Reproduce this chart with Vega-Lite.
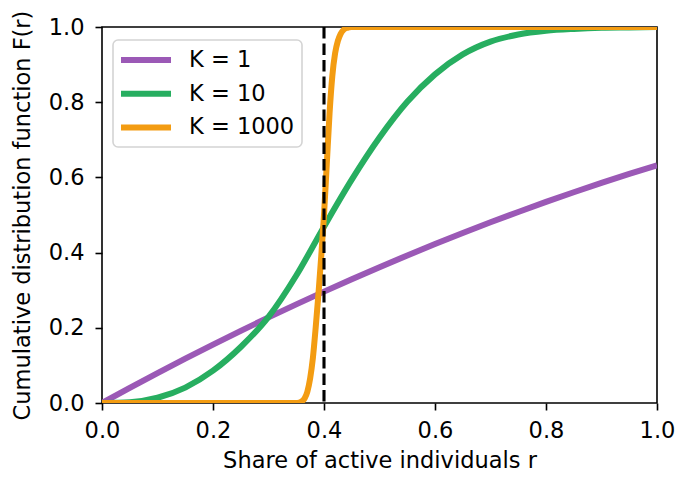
{
  "$schema": "https://vega.github.io/schema/vega-lite/v6.json",
  "width": 555,
  "height": 376,
  "autosize": {"type": "none"},
  "padding": {"left": 102, "top": 27, "right": 20, "bottom": 75},
  "background": "white",
  "config": {
    "font": "DejaVu Sans",
    "view": {"stroke": "black", "strokeWidth": 1.6},
    "axis": {
      "domain": false,
      "grid": false,
      "tickColor": "black",
      "tickWidth": 1.6,
      "tickSize": 7,
      "labelFont": "DejaVu Sans",
      "labelFontSize": 22.5,
      "labelColor": "black",
      "labelFlush": false,
      "labelOverlap": false,
      "titleFont": "DejaVu Sans",
      "titleFontSize": 22.5,
      "titleFontWeight": "normal",
      "titleColor": "black"
    },
    "legend": {
      "orient": "none",
      "legendX": 11,
      "legendY": 13,
      "title": null,
      "symbolType": "M-1.2,0H3.8",
      "symbolSize": 400,
      "symbolStrokeWidth": 6,
      "symbolFillColor": "transparent",
      "labelFont": "DejaVu Sans",
      "labelFontSize": 22.5,
      "labelColor": "black",
      "labelOffset": 43,
      "rowPadding": 8.7,
      "padding": 7,
      "strokeColor": "#d4d4d4",
      "strokeWidth": 1.6,
      "fillColor": "white",
      "cornerRadius": 5
    }
  },
  "datasets": {
    "curves": [
      {"K": "K = 1", "r": 0.0, "F": 0.0},
      {"K": "K = 1", "r": 0.05, "F": 0.0402},
      {"K": "K = 1", "r": 0.1, "F": 0.0795},
      {"K": "K = 1", "r": 0.15, "F": 0.1178},
      {"K": "K = 1", "r": 0.2, "F": 0.1553},
      {"K": "K = 1", "r": 0.25, "F": 0.1919},
      {"K": "K = 1", "r": 0.3, "F": 0.2276},
      {"K": "K = 1", "r": 0.35, "F": 0.2623},
      {"K": "K = 1", "r": 0.4, "F": 0.2962},
      {"K": "K = 1", "r": 0.45, "F": 0.3292},
      {"K": "K = 1", "r": 0.5, "F": 0.3613},
      {"K": "K = 1", "r": 0.55, "F": 0.3924},
      {"K": "K = 1", "r": 0.6, "F": 0.4227},
      {"K": "K = 1", "r": 0.65, "F": 0.4521},
      {"K": "K = 1", "r": 0.7, "F": 0.4806},
      {"K": "K = 1", "r": 0.75, "F": 0.5081},
      {"K": "K = 1", "r": 0.8, "F": 0.5348},
      {"K": "K = 1", "r": 0.85, "F": 0.5606},
      {"K": "K = 1", "r": 0.9, "F": 0.5855},
      {"K": "K = 1", "r": 0.95, "F": 0.6094},
      {"K": "K = 1", "r": 1.0, "F": 0.632},
      {"K": "K = 10", "r": 0.0, "F": 0.0},
      {"K": "K = 10", "r": 0.05, "F": 0.002},
      {"K": "K = 10", "r": 0.1, "F": 0.014},
      {"K": "K = 10", "r": 0.15, "F": 0.041},
      {"K": "K = 10", "r": 0.2, "F": 0.086},
      {"K": "K = 10", "r": 0.25, "F": 0.149},
      {"K": "K = 10", "r": 0.3, "F": 0.229},
      {"K": "K = 10", "r": 0.35, "F": 0.339},
      {"K": "K = 10", "r": 0.4, "F": 0.469},
      {"K": "K = 10", "r": 0.45, "F": 0.594},
      {"K": "K = 10", "r": 0.5, "F": 0.706},
      {"K": "K = 10", "r": 0.55, "F": 0.801},
      {"K": "K = 10", "r": 0.6, "F": 0.874},
      {"K": "K = 10", "r": 0.65, "F": 0.927},
      {"K": "K = 10", "r": 0.7, "F": 0.961},
      {"K": "K = 10", "r": 0.75, "F": 0.98},
      {"K": "K = 10", "r": 0.8, "F": 0.99},
      {"K": "K = 10", "r": 0.85, "F": 0.995},
      {"K": "K = 10", "r": 0.9, "F": 0.998},
      {"K": "K = 10", "r": 0.95, "F": 0.999},
      {"K": "K = 10", "r": 1.0, "F": 1.0},
      {"K": "K = 1000", "r": 0.0, "F": 0.0},
      {"K": "K = 1000", "r": 0.3, "F": 0.0},
      {"K": "K = 1000", "r": 0.35, "F": 0.0},
      {"K": "K = 1000", "r": 0.355, "F": 0.001},
      {"K": "K = 1000", "r": 0.36, "F": 0.004},
      {"K": "K = 1000", "r": 0.365, "F": 0.012},
      {"K": "K = 1000", "r": 0.37, "F": 0.03},
      {"K": "K = 1000", "r": 0.375, "F": 0.065},
      {"K": "K = 1000", "r": 0.38, "F": 0.12},
      {"K": "K = 1000", "r": 0.385, "F": 0.2},
      {"K": "K = 1000", "r": 0.39, "F": 0.29},
      {"K": "K = 1000", "r": 0.395, "F": 0.39},
      {"K": "K = 1000", "r": 0.4, "F": 0.5},
      {"K": "K = 1000", "r": 0.405, "F": 0.635},
      {"K": "K = 1000", "r": 0.41, "F": 0.77},
      {"K": "K = 1000", "r": 0.415, "F": 0.87},
      {"K": "K = 1000", "r": 0.42, "F": 0.93},
      {"K": "K = 1000", "r": 0.425, "F": 0.963},
      {"K": "K = 1000", "r": 0.43, "F": 0.982},
      {"K": "K = 1000", "r": 0.435, "F": 0.992},
      {"K": "K = 1000", "r": 0.44, "F": 0.997},
      {"K": "K = 1000", "r": 0.445, "F": 0.999},
      {"K": "K = 1000", "r": 0.45, "F": 1.0},
      {"K": "K = 1000", "r": 0.6, "F": 1.0},
      {"K": "K = 1000", "r": 0.8, "F": 1.0},
      {"K": "K = 1000", "r": 1.0, "F": 1.0}
    ],
    "threshold": [{"r": 0.4}]
  },
  "layer": [
    {
      "data": {"name": "curves"},
      "mark": {"type": "line", "strokeWidth": 6, "clip": true, "interpolate": "monotone"},
      "encoding": {
        "x": {
          "field": "r",
          "type": "quantitative",
          "scale": {"domain": [0, 1], "nice": false, "zero": false},
          "axis": {
            "title": "Share of active individuals r",
            "values": [0, 0.2, 0.4, 0.6, 0.8, 1.0],
            "format": ".1f",
            "labelPadding": 9,
            "titlePadding": 8
          }
        },
        "y": {
          "field": "F",
          "type": "quantitative",
          "scale": {"domain": [0, 1], "nice": false, "zero": false},
          "axis": {
            "title": "Cumulative distribution function F(r)",
            "values": [0, 0.2, 0.4, 0.6, 0.8, 1.0],
            "format": ".1f",
            "labelPadding": 11,
            "titlePadding": 14
          }
        },
        "color": {
          "field": "K",
          "type": "nominal",
          "scale": {
            "domain": ["K = 1", "K = 10", "K = 1000"],
            "range": ["#9b59b6", "#27ae60", "#f39c12"]
          }
        }
      }
    },
    {
      "data": {"name": "threshold"},
      "mark": {"type": "rule", "color": "black", "strokeWidth": 3.1, "strokeDash": [11.5, 5]},
      "encoding": {
        "x": {"field": "r", "type": "quantitative"}
      }
    }
  ]
}
